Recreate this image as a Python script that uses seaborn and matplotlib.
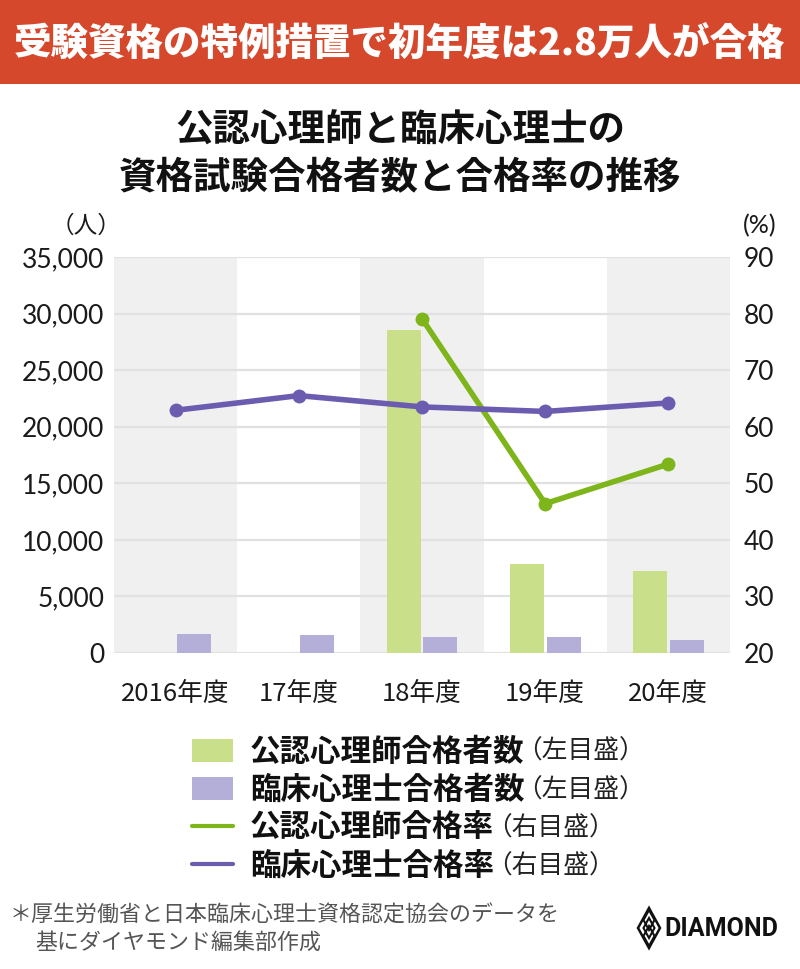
import numpy as np
import pandas as pd
import matplotlib
matplotlib.use("Agg")
import matplotlib.pyplot as plt
import seaborn as sns
from matplotlib.patches import Patch, Polygon, Rectangle
from matplotlib.lines import Line2D

# ---------------- data ----------------
years = ["2016年度", "17年度", "18年度", "19年度", "20年度"]
kounin_count = [np.nan, np.nan, 28574, 7864, 7282]
rinsho_count = [1650, 1590, 1450, 1380, 1150]
kounin_rate = [np.nan, np.nan, 79.1, 46.4, 53.4]
rinsho_rate = [62.9, 65.5, 63.5, 62.7, 64.2]

series_names = ["公認心理師合格者数", "臨床心理士合格者数", "公認心理師合格率", "臨床心理士合格率"]
scale_notes = ["（左目盛）", "（左目盛）", "（右目盛）", "（右目盛）"]
left_ticks = [0, 5000, 10000, 15000, 20000, 25000, 30000, 35000]
right_ticks = [20, 30, 40, 50, 60, 70, 80, 90]

header = "受験資格の特例措置で初年度は2.8万人が合格"
title_lines = ["公認心理師と臨床心理士の", "資格試験合格者数と合格率の推移"]
footer_lines = ["＊厚生労働省と日本臨床心理士資格認定協会のデータを", "基にダイヤモンド編集部作成"]

# ---------------- style ----------------
GREEN_BAR = "#c9df8a"
PURPLE_BAR = "#b4afd9"
GREEN_LINE = "#7db51a"
PURPLE_LINE = "#6b5cb0"
BAND = "#f0f0f0"
GRID = "#e1e1e1"
RED = "#d5482c"
TXT = "#1a1a1a"

sns.set_theme(style="white")
plt.rcParams['font.family'] = ['Noto Sans CJK JP', 'DejaVu Sans']

W, H = 800, 969
fig = plt.figure(figsize=(W / 100, H / 100), dpi=100)


def fx(x):
    return x / W


def fy(y):
    return 1 - y / H


# header band
fig.patches.append(Rectangle((0, fy(84)), 1, 84 / H, transform=fig.transFigure,
                             facecolor=RED, edgecolor="none", zorder=0))
fig.text(0.5, fy(44), header, ha="center", va="center", color="white",
         fontsize=27, fontweight="black")

fig.text(0.5, fy(130), title_lines[0], ha="center", va="center", color="#111",
         fontsize=27, fontweight="bold")
fig.text(0.5, fy(178), title_lines[1], ha="center", va="center", color="#111",
         fontsize=27, fontweight="bold")

# ---------------- axes ----------------
ax = fig.add_axes([fx(114), fy(653), fx(730) - fx(114), (653 - 257) / H])
ax.set_axisbelow(True)

for i in range(0, len(years), 2):
    ax.axvspan(i - 0.5, i + 0.5, color=BAND, lw=0, zorder=0)

rows = []
for y, a, b in zip(years, kounin_count, rinsho_count):
    rows.append((y, series_names[0], a))
    rows.append((y, series_names[1], b))
bar_df = pd.DataFrame(rows, columns=["year", "series", "value"]).dropna()

sns.barplot(data=bar_df, x="year", y="value", hue="series", order=years,
            hue_order=series_names[:2], palette=[GREEN_BAR, PURPLE_BAR],
            width=0.6, gap=0.08, saturation=1, linewidth=0, legend=False,
            ax=ax, zorder=3)

ax.set_xlim(-0.5, len(years) - 0.5)
ax.set_ylim(left_ticks[0], left_ticks[-1])
ax.set_yticks(left_ticks)
ax.set_yticklabels([f"{v:,}" for v in left_ticks], fontfamily="Lato",
                   fontsize=19, color=TXT)
ax.set_xticks(range(len(years)))
ax.set_xticklabels(years, fontsize=18.5, color=TXT)
ax.tick_params(axis="y", length=0, pad=7)
ax.tick_params(axis="x", length=0, pad=20)
ax.yaxis.grid(True, color=GRID, lw=1.6)
ax.xaxis.grid(False)
ax.set_xlabel("")
ax.set_ylabel("")
for s in ax.spines.values():
    s.set_visible(False)

ax2 = ax.twinx()
xs = list(range(len(years)))
line_rows = []
for i, a, b in zip(xs, kounin_rate, rinsho_rate):
    line_rows.append((i, series_names[2], a))
    line_rows.append((i, series_names[3], b))
line_df = pd.DataFrame(line_rows, columns=["x", "series", "value"]).dropna()
sns.lineplot(data=line_df, x="x", y="value", hue="series",
             hue_order=series_names[2:], palette=[GREEN_LINE, PURPLE_LINE],
             lw=4, marker="o", markersize=10, markeredgewidth=0,
             legend=False, ax=ax2, zorder=5)
ax2.set_ylim(right_ticks[0], right_ticks[-1])
ax2.set_yticks(right_ticks)
ax2.set_yticklabels([str(v) for v in right_ticks], fontfamily="Lato",
                    fontsize=19, color=TXT)
ax2.tick_params(axis="y", length=0, pad=10)
ax2.grid(False)
ax2.set_xlabel("")
ax2.set_ylabel("")
ax2.set_xlim(-0.5, len(years) - 0.5)
for s in ax2.spines.values():
    s.set_visible(False)

fig.text(fx(86), fy(226), "（人）", ha="center", va="center", fontsize=17, color=TXT)
fig.text(fx(760), fy(226), "(%)", ha="center", va="center", fontsize=18,
         color=TXT, fontfamily="Lato")

# ---------------- legend ----------------
handles = [
    Patch(facecolor=GREEN_BAR, edgecolor="none"),
    Patch(facecolor=PURPLE_BAR, edgecolor="none"),
    Line2D([], [], color=GREEN_LINE, lw=3),
    Line2D([], [], color=PURPLE_LINE, lw=3),
]
leg = fig.legend(handles, series_names, loc="upper left",
                 bbox_to_anchor=(fx(192), fy(736)), frameon=False,
                 borderaxespad=0, borderpad=0, handlelength=1.35,
                 handleheight=0.78, handletextpad=0.55, labelspacing=0.2,
                 prop={"size": 22, "weight": "bold"})
for t in leg.get_texts():
    t.set_color("#111")

fig.canvas.draw()
rend = fig.canvas.get_renderer()
for t, note in zip(leg.get_texts(), scale_notes):
    bb = t.get_window_extent(rend)
    fig.text((bb.x1 - 8) / W, (bb.y0 + bb.y1) / 2 / H, note, ha="left",
             va="center", fontsize=18.5, color="#222")

# ---------------- footer ----------------
fig.text(fx(10), fy(916), footer_lines[0], ha="left", va="center",
         fontsize=15.8, color="#555")
fig.text(fx(35), fy(943), footer_lines[1], ha="left", va="center",
         fontsize=15.8, color="#555")

# logo emblem
cx, cy, hw, hh = 649, 928, 11, 20


def diamond(cx_, cy_, hw_, hh_, **kw):
    pts = [(fx(cx_), fy(cy_ - hh_)), (fx(cx_ + hw_), fy(cy_)),
           (fx(cx_), fy(cy_ + hh_)), (fx(cx_ - hw_), fy(cy_))]
    fig.patches.append(Polygon(pts, closed=True, transform=fig.transFigure, **kw))


diamond(cx, cy, hw, hh, facecolor="none", edgecolor="#111", lw=1.8)
diamond(cx, cy - 8, 5.5, 10, facecolor="none", edgecolor="#111", lw=1.5)
diamond(cx, cy + 8, 5.5, 10, facecolor="none", edgecolor="#111", lw=1.5)
diamond(cx, cy, 5.5, 10, facecolor="none", edgecolor="#111", lw=1.5)
fig.text(fx(664), fy(929), "DIAMOND", ha="left", va="center", fontsize=18,
         fontweight="bold", color="#111",
         fontfamily=["Liberation Sans Narrow", "Roboto", "DejaVu Sans"])

fig.savefig("out.png", dpi=100)
